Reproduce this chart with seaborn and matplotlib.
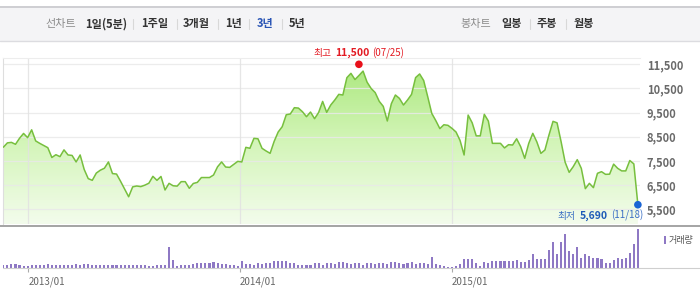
import numpy as np
import pandas as pd
import matplotlib
matplotlib.use("Agg")
import matplotlib.pyplot as plt
from matplotlib.colors import LinearSegmentedColormap
from matplotlib.patches import Rectangle
from matplotlib.lines import Line2D
import seaborn as sns

# ---------------- data ----------------
start_date = "2012-11-19"
end_date = "2015-11-18"

price = [
    8070, 8250, 8270, 8190, 8440, 8640, 8465, 8790, 8330, 8230,
    8140, 8050, 7645, 7760, 7680, 7960, 7750, 7730, 7460, 7750,
    7150, 6770, 6700, 7000, 7120, 7200, 7460, 6980, 6960, 6660,
    6340, 6020, 6430, 6465, 6440, 6500, 6580, 6865, 6700, 6860,
    6300,
    6575, 6475, 6460, 6645, 6645, 6370, 6570, 6615, 6815, 6815,
    6815, 6920, 7260, 7460, 7250, 7235, 7360, 7485, 7460, 8065,
    8025, 8437, 8420, 8025, 7915, 7817, 8310, 8700, 8920, 9415,
    9445, 9705, 9690, 9540, 9333, 9525, 9250, 9505, 9965, 9513,
    9816, 10023, 10257, 10230, 10947, 11126,
    10870, 11040, 11220, 10760, 10500, 10330, 9970, 9760, 9155, 9870,
    10230, 10090, 9816, 10023, 10257, 10950, 11100, 10830, 10160, 9470,
    9170, 8840, 9000, 8975, 8850, 8700, 8350, 7748, 9400, 9080,
    8540, 8540, 9430, 9154, 8230, 8230, 8230, 8040, 8175, 8161,
    8420, 8092, 7609, 8230, 8644, 8290, 7816, 7954, 8575, 9140,
    9080, 8299, 7450, 7030, 7265, 7555, 7196, 6355, 6575, 6396,
    6990, 7058, 6947, 6955, 7370, 7196, 7090, 7090, 7520, 7380,
    5690,
]

volume = [
    30, 35, 40, 40, 30, 25, 25, 30, 30, 30,
    35, 45, 30, 30, 35, 35, 30, 35, 40, 35,
    45, 40, 35, 35, 30, 30, 35, 30, 35, 30,
    30, 35, 30, 30, 30, 30, 25, 25, 30, 30,
    35,
    210, 80, 25, 30, 35, 30, 40, 55, 55, 55,
    50, 65, 55, 45, 40, 35, 30, 25, 75, 45,
    40, 35, 55, 40, 55, 55, 70, 75, 70, 70,
    55, 50, 35, 30, 30, 35, 55, 50, 35, 55,
    50, 40, 60, 65, 50, 40, 55, 50, 35, 50,
    55, 40, 55, 50, 45, 60, 60, 55, 40, 50,
    65, 45, 50, 55, 40,
    115,
    45, 30, 25, 15, 15, 25,
    45, 95, 95, 90, 50, 20, 65, 50, 75, 75,
    70, 75, 70, 70, 80, 60, 60, 85,
    145, 93, 93, 95, 180, 260, 145, 265, 345, 167,
    140, 215, 105, 140, 120, 105, 105, 93, 55, 50,
    83, 105, 95, 100, 150, 240, 393,
]

y_ticks = [5500, 6500, 7500, 8500, 9500, 10500, 11500]
x_tick_dates = ["2013-01-01", "2014-01-01", "2015-01-01"]
x_tick_labels = ["2013/01", "2014/01", "2015/01"]

hi_date, hi_value, hi_label = "2014-07-25", 11500, "07/25"
lo_date, lo_value, lo_label = "2015-11-18", 5690, "11/18"

range_title = "선차트"
range_tabs = ["1일(5분)", "1주일", "3개월", "1년", "3년", "5년"]
candle_title = "봉차트"
candle_tabs = ["일봉", "주봉", "월봉"]
volume_title = "거래량"

# ---------------- style ----------------
sns.set_theme(style="white")
plt.rcParams["font.family"] = ["Noto Sans CJK KR", "DejaVu Sans"]

W, H = 700, 305
fig = plt.figure(figsize=(W / 100, H / 100), dpi=100)
fig.patch.set_facecolor("white")


def fx(px):
    return px / W


def fy(py):
    return 1 - py / H


# ---------------- header bar ----------------
fig.add_artist(Rectangle((0, fy(41)), 1, fy(6) - fy(41), transform=fig.transFigure,
                         facecolor="#f4f4f6", edgecolor="none", zorder=0))
fig.add_artist(Line2D([0, 1], [fy(6.5)] * 2, transform=fig.transFigure, color="#c8c8cc", lw=1.2))
fig.add_artist(Line2D([0, 1], [fy(40.5)] * 2, transform=fig.transFigure, color="#dcdce0", lw=1.0))

hdr_y = fy(24)
fig.text(fx(45), hdr_y, range_title, fontsize=8, color="#8c8c8c", va="center", ha="left")
tab_x = [85, 141, 183, 225, 257, 289]
sep_x = [133, 177, 218, 249, 282]
for t, x in zip(range_tabs, tab_x):
    col = "#2a55b5" if t == "3년" else "#333333"
    fig.text(fx(x), hdr_y, t, fontsize=8, color=col, va="center", ha="left", fontweight="bold")
for x in sep_x:
    fig.add_artist(Line2D([fx(x)] * 2, [fy(19), fy(29)], transform=fig.transFigure, color="#d8d8d8", lw=0.8))

fig.text(fx(460), hdr_y, candle_title, fontsize=8, color="#8c8c8c", va="center", ha="left")
ctab_x = [501, 537, 574]
csep_x = [530, 566]
for t, x in zip(candle_tabs, ctab_x):
    fig.text(fx(x), hdr_y, t, fontsize=8, color="#333333", va="center", ha="left", fontweight="bold")
for x in csep_x:
    fig.add_artist(Line2D([fx(x)] * 2, [fy(19), fy(29)], transform=fig.transFigure, color="#d8d8d8", lw=0.8))

# ---------------- data frame ----------------
dates = pd.date_range(start_date, end_date, periods=len(price))
df = pd.DataFrame({"date": dates, "price": price, "volume": volume})

ref = pd.Timestamp("2013-01-01")
px_per_day = 0.58


def date_at(px):
    return ref + pd.Timedelta(days=(px - 28.3) / px_per_day)


xlim = (date_at(3), date_at(640))
ylim = (4893, 11761)

# ---------------- price panel ----------------
ax = fig.add_axes([fx(3), fy(224), fx(640) - fx(3), fy(58) - fy(224)])
ax.set_facecolor("white")

fill = ax.fill_between(df["date"], df["price"], ylim[0], facecolor="none", edgecolor="none")
ax.set_xlim(xlim)
ax.set_ylim(ylim)
xl0, xl1 = ax.get_xlim()
grad = np.linspace(0, 1, 256).reshape(-1, 1)
cmap = LinearSegmentedColormap.from_list("g", ["#f3fcec", "#d3f5b8", "#a9e77a"])
im = ax.imshow(grad, aspect="auto", cmap=cmap, origin="lower",
               extent=[xl0, xl1, ylim[0], ylim[1]], zorder=1, interpolation="bilinear")
im.set_clip_path(fill.get_paths()[0], transform=ax.transData)

for v in y_ticks:
    ax.axhline(v, color="#e9e9e9", lw=0.9, alpha=0.85, zorder=2)
for d in x_tick_dates:
    ax.axvline(pd.Timestamp(d), color="#e2e2e2", lw=0.9, alpha=0.85, zorder=2)

sns.lineplot(data=df, x="date", y="price", ax=ax, color="#77bf3e", linewidth=1.1, zorder=3)

ax.set_xlim(xlim)
ax.set_ylim(ylim)
ax.set_xlabel("")
ax.set_ylabel("")
ax.set_xticks([pd.Timestamp(d) for d in x_tick_dates])
ax.tick_params(axis="x", length=0, labelbottom=False)
ax.yaxis.tick_right()
ax.set_yticks(y_ticks)
ax.set_yticklabels([f"{v:,}" for v in y_ticks], fontsize=8, fontweight="bold", color="#6a6a6a")
ax.tick_params(axis="y", length=0, pad=5, right=False, left=False)
ax.grid(False)
for s in ["right", "bottom"]:
    ax.spines[s].set_visible(False)
ax.spines["top"].set_color("#ededed")
ax.spines["top"].set_linewidth(0.8)
ax.spines["left"].set_color("#dedede")
ax.spines["left"].set_linewidth(0.8)

# max / min markers
hi_dt = pd.Timestamp(hi_date)
lo_dt = pd.Timestamp(lo_date)
marks = pd.DataFrame({"date": [hi_dt, lo_dt], "price": [hi_value, lo_value], "kind": ["hi", "lo"]})
sns.scatterplot(data=marks, x="date", y="price", hue="kind", palette={"hi": "#e8101a", "lo": "#1a64d4"},
                s=30, edgecolor="none", ax=ax, legend=False, zorder=5, clip_on=False)
ax.set_xlabel("")
ax.set_ylabel("")

red = "#e31b23"
t1 = ax.annotate("최고", xy=(hi_dt, hi_value), xytext=(-45, 11), textcoords="offset pixels",
                 fontsize=7, color=red, ha="left", va="center", annotation_clip=False)
t2 = ax.annotate(f"{hi_value:,}", xy=(1, 0.5), xycoords=t1, xytext=(3, 0), textcoords="offset pixels",
                 fontsize=7.5, color=red, fontweight="bold", ha="left", va="center")
t3 = ax.annotate(f"({hi_label})", xy=(1, 0.5), xycoords=t2, xytext=(3, 0), textcoords="offset pixels",
                 fontsize=7, color=red, ha="left", va="center")

blue = "#1f5cb8"
b3 = ax.annotate(f"({lo_label})", xy=(lo_dt, lo_value), xytext=(5, -11), textcoords="offset pixels",
                 fontsize=7, color="#3a6fc4", ha="right", va="center", annotation_clip=False, zorder=6)
b2 = ax.annotate(f"{lo_value:,}", xy=(0, 0.5), xycoords=b3, xytext=(-3, 0), textcoords="offset pixels",
                 fontsize=7.5, color=blue, fontweight="bold", ha="right", va="center", zorder=6)
b1 = ax.annotate("최저", xy=(0, 0.5), xycoords=b2, xytext=(-4, 0), textcoords="offset pixels",
                 fontsize=7, color="#3a6fc4", ha="right", va="center", zorder=6)

# ---------------- volume panel ----------------
ax2 = fig.add_axes([fx(3), fy(268), fx(640) - fx(3), fy(226) - fy(268)])
ax2.patch.set_alpha(0)
ax2.bar(df["date"], df["volume"], width=3.6, color="#8e78c4", linewidth=0, zorder=2)
ax2.set_xlim(xlim)
ax2.set_ylim(0, 420)
ax2.set_yticks([])
ax2.set_xticks([pd.Timestamp(d) for d in x_tick_dates])
ax2.set_xticklabels(x_tick_labels, fontsize=7, color="#666666", ha="left")
ax2.tick_params(axis="x", bottom=True, length=3, width=0.8, color="#aaaaaa", pad=3)
for s in ax2.spines.values():
    s.set_visible(False)

fig.add_artist(Line2D([0, 1], [fy(226)] * 2, transform=fig.transFigure, color="#a4a4a4", lw=1.4))
fig.add_artist(Line2D([fx(3), 1], [fy(268.3)] * 2, transform=fig.transFigure, color="#cfcfcf", lw=0.8))

# volume legend
fig.add_artist(Rectangle((fx(664), fy(244)), fx(2.2), fy(236) - fy(244), transform=fig.transFigure,
                         facecolor="#8e78c4", edgecolor="none"))
fig.text(fx(669), fy(240), volume_title, fontsize=6.5, color="#555555", ha="left", va="center")

fig.savefig("out.png", dpi=100, facecolor="white")
